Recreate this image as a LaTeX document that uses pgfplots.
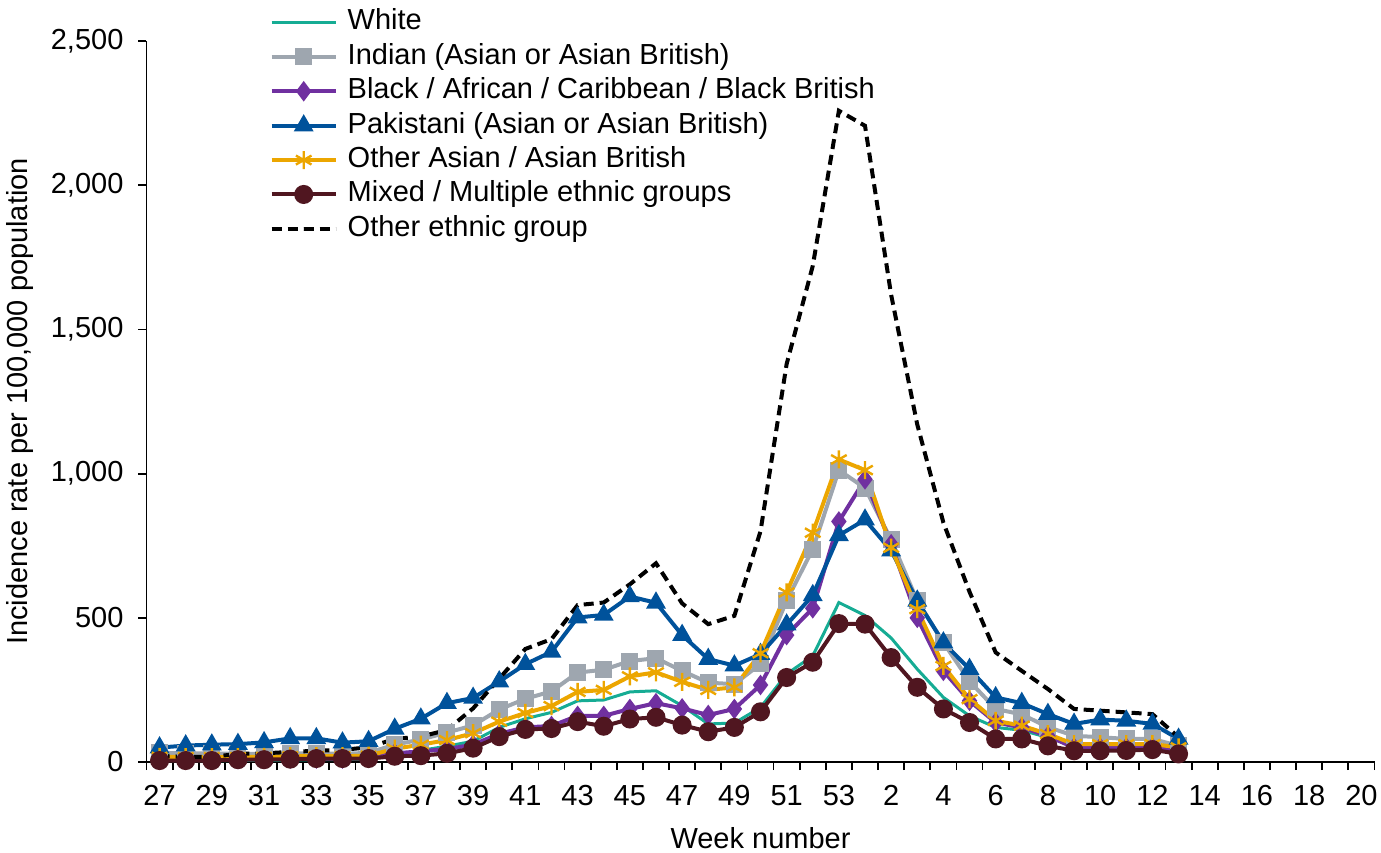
\documentclass[border=0pt]{standalone}
\usepackage{pgfplots}
\pgfplotsset{compat=1.18}
\usepackage{pgfplotstable}
\usepackage{fontspec}
\setmainfont{Liberation Sans}

\definecolor{cwhite}{RGB}{22,172,148}
\definecolor{cindian}{RGB}{158,166,175}
\definecolor{cblack}{RGB}{112,48,160}
\definecolor{cpak}{RGB}{0,82,155}
\definecolor{coasian}{RGB}{236,166,0}
\definecolor{cmixed}{RGB}{80,22,32}

% idx 0..26 = weeks 27..53, idx 27..39 = weeks 1..13
\pgfplotstableread{
idx white indian black pak oasian mixed other
0  5   32   8    50  18   5   21
1  5   30   8    57  17   5   18
2  5   30   8    60  17   5   18
3  5   28   10   62  17   8   28
4  6   28   10   68  18   8   30
5  7   30   12   82  20   10  35
6  8   30   12   82  20   12  39
7  8   28   12   67  20   12  42
8  10  32   15   72  22   12  51
9  25  60   30   115 46   20  80
10 40  78   37   150 60   22  88
11 55  102  45   204 76   30  111
12 72  127  60   222 100  48  186
13 120 182  98   279 140  88  289
14 150 219  120  339 170  113 392
15 172 245  125  382 194  116 426
16 212 310  160  501 243  140 544
17 215 320  160  510 250  124 553
18 243 350  184  574 297  149 616
19 247 360  204  552 311  155 689
20 195 316  186  440 278  128 550
21 132 275  163  357 250  105 478
22 135 270  184  334 259  120 507
23 189 340  267  374 377  174 800
24 305 560  440  476 588  293 1380
25 368 738  533  578 795  346 1720
26 553 1012 834  786 1049 480 2258
27 508 950  980  840 1012 478 2206
28 430 770  755  733 743  362 1620
29 322 559  500  559 530  259 1170
30 224 414  316  414 333  184 830
31 160 280  212  322 218  137 590
32 120 184  137  224 143  80  380
33 110 165  120  204 126  80  316
34 85  121  90   166 97   56  253
35 55  91   50   132 62   39  184
36 55  86   50   147 62   39  178
37 55  80   50   143 62   40  172
38 55  80   50   132 62   43  166
39 40  56   40   80  51   28  86
}\datatable

\begin{document}
\begin{tikzpicture}[font=\fontsize{14.5}{17}\selectfont]
\begin{axis}[
    scale only axis,
    width=614pt, height=360.5pt,
    xmin=-0.5, xmax=46.5,
    ymin=0, ymax=2500,
    axis lines*=left,
    axis line style={line width=0.9pt},
    tick align=outside,
    xtick={0,2,...,46},
    xticklabels={27,29,31,33,35,37,39,41,43,45,47,49,51,53,2,4,6,8,10,12,14,16,18,20},
    major x tick style={draw=none},
    minor xtick={-0.5,0.5,...,46.5},
    minor tick length=4pt,
    major tick length=4pt,
    every tick/.style={black, line width=0.9pt},
    ytick={0,500,1000,1500,2000,2500},
    /pgf/number format/1000 sep={,},
    /pgf/number format/assume math mode=true,
    x tick label style={yshift=-4pt},
    y tick label style={xshift=-4pt},
    xlabel={Week number},
    xlabel style={yshift=-4pt},
    ylabel={Incidence rate per 100,000 population},
    ylabel style={yshift=2pt},
    clip=false,
    legend cell align=left,
    legend style={at={(0.1,1.045)}, anchor=north west, draw=none, fill=none,
        inner sep=0pt, row sep=3.7pt, column sep=5pt,
        nodes={inner sep=0pt, text height=10.5pt, text depth=3pt}},
    legend image code/.code={
        \draw[mark repeat=2, mark phase=2, #1] plot coordinates {(0pt,0pt) (16pt,0pt) (32pt,0pt)};
    },
]
\addplot[color=cwhite, line width=1.5pt] table[x=idx, y=white] {\datatable};
\addlegendentry{White}
\addplot[color=cindian, line width=2pt, mark=square*, mark size=3.25pt, mark options={solid, fill=cindian}] table[x=idx, y=indian] {\datatable};
\addlegendentry{Indian (Asian or Asian British)}
\addplot[color=cblack, line width=2pt, mark=diamond*, mark size=3.5pt, mark options={solid, fill=cblack}] table[x=idx, y=black] {\datatable};
\addlegendentry{Black / African / Caribbean / Black British}
\addplot[color=cpak, line width=2pt, mark=triangle*, mark size=3.75pt, mark options={solid, fill=cpak}] table[x=idx, y=pak] {\datatable};
\addlegendentry{Pakistani (Asian or Asian British)}
\addplot[color=coasian, line width=2pt, mark=asterisk, mark size=4.5pt, mark options={solid, line width=1.2pt}] table[x=idx, y=oasian] {\datatable};
\addlegendentry{Other Asian / Asian British}
\addplot[color=cmixed, line width=2pt, mark=*, mark size=3.75pt, mark options={solid, fill=cmixed}] table[x=idx, y=mixed] {\datatable};
\addlegendentry{Mixed / Multiple ethnic groups}
\addplot[color=black, line width=2pt, dash pattern=on 5pt off 3pt] table[x=idx, y=other] {\datatable};
\addlegendentry{Other ethnic group}
\end{axis}
\pgfresetboundingbox
\path[use as bounding box] (-73.25pt,-45pt) rectangle (617.25pt,381pt);
\end{tikzpicture}
\end{document}
